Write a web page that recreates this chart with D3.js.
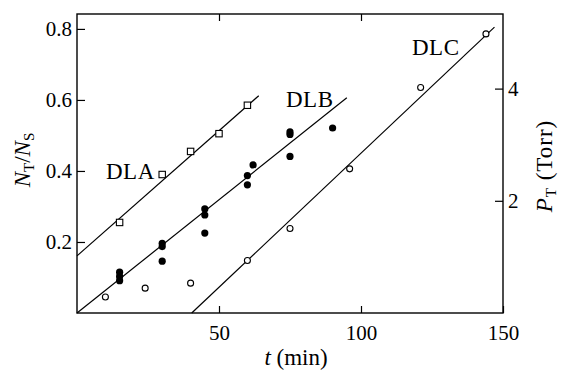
<!DOCTYPE html>
<html>
<head>
<meta charset="utf-8">
<script src="https://cdn.jsdelivr.net/npm/d3@7"></script>
<style>
    html, body { margin: 0; padding: 0; background: #fff; }
    svg { display: block; font-family: "Liberation Serif", "Times New Roman", serif; }
    .axis line { stroke: #000; stroke-width: 1.2; }
    .fit { fill: none; stroke: #000; stroke-width: 1.2; }
    .label { font-size: 23px; fill: #000; letter-spacing: 0.5px; }
    .title { font-size: 23px; fill: #000; }
</style>
</head>
<body>
<svg id="chart" width="561" height="372"></svg>
<script>
'use strict';

// DLA (open squares)
var dlaTime = [15, 30, 40, 50, 60];
var dlaRatio = [0.255, 0.39, 0.455, 0.505, 0.585];

// DLB (filled circles)
var dlbTime = [15, 15, 15, 30, 30, 30, 45, 45, 45, 60, 60, 62, 75, 75, 75, 90];
var dlbRatio = [0.115, 0.103, 0.091, 0.196, 0.187, 0.146, 0.293, 0.276, 0.225,
    0.387, 0.361, 0.417, 0.51, 0.503, 0.441, 0.521];

// DLC (open circles)
var dlcTime = [10, 24, 40, 60, 75, 96, 121, 144];
var dlcRatio = [0.045, 0.07, 0.084, 0.148, 0.238, 0.406, 0.635, 0.786];

// straight fits, [t, N] end points
var dlaFit = [[0, 0.161], [64, 0.612]];
var dlbFit = [[0, 0], [95, 0.606]];
var dlcFit = [[40.4, 0], [147, 0.805]];

var timeTicks = [50, 100, 150];
var topTicks = [50, 100];
var ratioTicks = [0.2, 0.4, 0.6, 0.8];
var pressureTicks = [2, 4];

(function () {
    var plotLeft = 77,
        plotRight = 503,
        plotTop = 14,
        plotBottom = 313,
        serif = '"Liberation Serif", "Times New Roman", serif';

    var svg = d3.select('#chart');

    var x = d3.scaleLinear().domain([0, 150]).range([plotLeft, plotRight]);
    var y = d3.scaleLinear().domain([0, 0.842]).range([plotBottom, plotTop]);
    var p = d3.scaleLinear().domain([0, 5.33]).range([plotBottom, plotTop]);

    function zip(xs, ys) {
        return xs.map(function (d, i) {
            return [d, ys[i]];
        });
    }

    function cleanAxis(g) {
        g.attr('font-family', serif).attr('font-size', 21);
        g.select('.domain').remove();
        g.selectAll('text')
            .attr('fill', '#000')
            .style('font-family', serif)
            .style('font-size', '21px');
    }

    svg.append('g')
        .attr('class', 'axis')
        .attr('transform', 'translate(0,' + plotBottom + ')')
        .call(d3.axisBottom(x).tickValues(timeTicks).tickSize(-7).tickPadding(12).tickFormat(d3.format('d')))
        .call(cleanAxis);

    svg.append('g')
        .attr('class', 'axis')
        .attr('transform', 'translate(0,' + plotTop + ')')
        .call(d3.axisTop(x).tickValues(topTicks).tickSize(-7).tickFormat(''))
        .call(cleanAxis);

    svg.append('g')
        .attr('class', 'axis')
        .attr('transform', 'translate(' + plotLeft + ',0)')
        .call(d3.axisLeft(y).tickValues(ratioTicks).tickSize(-8).tickPadding(5).tickFormat(d3.format('.1f')))
        .call(cleanAxis);

    svg.append('g')
        .attr('class', 'axis')
        .attr('transform', 'translate(' + plotRight + ',0)')
        .call(d3.axisRight(p).tickValues(pressureTicks).tickSize(-8).tickPadding(5).tickFormat(d3.format('d')))
        .call(cleanAxis);

    // frame
    svg.append('rect')
        .attr('x', plotLeft)
        .attr('y', plotTop)
        .attr('width', plotRight - plotLeft)
        .attr('height', plotBottom - plotTop)
        .attr('fill', 'none')
        .attr('stroke', '#000')
        .attr('stroke-width', 1.4);

    var line = d3.line()
        .x(function (d) { return x(d[0]); })
        .y(function (d) { return y(d[1]); });

    svg.selectAll('path.fit')
        .data([dlaFit, dlbFit, dlcFit])
        .enter()
        .append('path')
        .attr('class', 'fit')
        .attr('d', line);

    svg.selectAll('rect.dla')
        .data(zip(dlaTime, dlaRatio))
        .enter()
        .append('rect')
        .attr('class', 'dla')
        .attr('x', function (d) { return x(d[0]) - 3.2; })
        .attr('y', function (d) { return y(d[1]) - 3.2; })
        .attr('width', 6.4)
        .attr('height', 6.4)
        .attr('fill', '#fff')
        .attr('stroke', '#000')
        .attr('stroke-width', 1.1);

    svg.selectAll('circle.dlb')
        .data(zip(dlbTime, dlbRatio))
        .enter()
        .append('circle')
        .attr('class', 'dlb')
        .attr('cx', function (d) { return x(d[0]); })
        .attr('cy', function (d) { return y(d[1]); })
        .attr('r', 3.6)
        .attr('fill', '#000');

    svg.selectAll('circle.dlc')
        .data(zip(dlcTime, dlcRatio))
        .enter()
        .append('circle')
        .attr('class', 'dlc')
        .attr('cx', function (d) { return x(d[0]); })
        .attr('cy', function (d) { return y(d[1]); })
        .attr('r', 3)
        .attr('fill', '#fff')
        .attr('stroke', '#000')
        .attr('stroke-width', 1.1);

    // series labels
    svg.append('text').attr('class', 'label').attr('x', 106).attr('y', 179).text('DLA');
    svg.append('text').attr('class', 'label').attr('x', 286).attr('y', 107).text('DLB');
    svg.append('text').attr('class', 'label').attr('x', 412).attr('y', 55).text('DLC');

    // axis titles
    var xTitle = svg.append('text')
        .attr('class', 'title')
        .attr('x', 296)
        .attr('y', 365)
        .attr('text-anchor', 'middle');
    xTitle.append('tspan').attr('font-style', 'italic').text('t');
    xTitle.append('tspan').text(' (min)');

    var yTitle = svg.append('text')
        .attr('class', 'title')
        .attr('transform', 'translate(30,160) rotate(-90)')
        .attr('text-anchor', 'middle');
    yTitle.append('tspan').attr('font-style', 'italic').text('N');
    yTitle.append('tspan').attr('font-size', '15px').attr('dy', 4).text('T');
    yTitle.append('tspan').attr('dy', -4).text('/');
    yTitle.append('tspan').attr('font-style', 'italic').text('N');
    yTitle.append('tspan').attr('font-size', '15px').attr('dy', 4).text('S');

    var pTitle = svg.append('text')
        .attr('class', 'title')
        .attr('transform', 'translate(552,166) rotate(-90)')
        .attr('text-anchor', 'middle')
        .attr('letter-spacing', '1px');
    pTitle.append('tspan').attr('font-style', 'italic').text('P');
    pTitle.append('tspan').attr('font-size', '15px').attr('dy', 4).text('T');
    pTitle.append('tspan').attr('dy', -4).text(' (Torr)');
}());
</script>
</body>
</html>
